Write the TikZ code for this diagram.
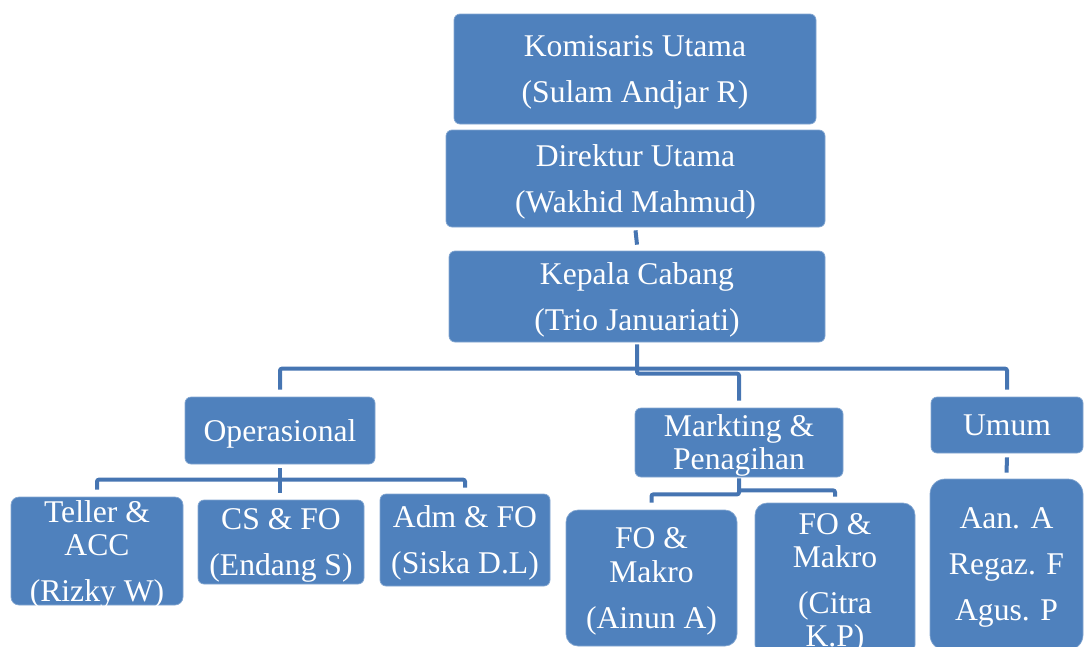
\documentclass[tikz,border=0pt]{standalone}
\usepackage{fontspec}
\setmainfont{Liberation Serif}
\usepackage{tikz}
\usetikzlibrary{calc}

\definecolor{birukotak}{HTML}{4F81BD}
\definecolor{birugaris}{HTML}{4675B2}
\def\px{0.02cm}

\begin{document}
\begin{tikzpicture}[x=0.02cm, y=-0.02cm,
	kotak/.style={fill=birukotak, draw=birukotak!70!white, line width=0.4pt, rounded corners=6*\px,
		text=white, align=center, inner sep=0pt, text depth=0pt,
		font=\fontsize{18}{18.8}\selectfont},
	garis/.style={draw=birugaris, line width=4*\px, rounded corners=2*\px}]
	\useasboundingbox (0,0) rectangle (1088,646);
	%% pimpinan
	\node[kotak, minimum width=362*\px, minimum height=110*\px] (kom) at (635,69) {Komisaris Utama\\[7.4pt](Sulam Andjar R)};
	\node[kotak, minimum width=379*\px, minimum height=97*\px] (dir) at (635.5,178.5) {Direktur Utama\\[7.4pt](Wakhid Mahmud)};
	\node[kotak, minimum width=376*\px, minimum height=91*\px] (kep) at (637,296.5) {Kepala Cabang\\[7.4pt](Trio Januariati)};
	%% bagian
	\node[kotak, minimum width=190*\px, minimum height=67*\px] (ops) at (280,430.5) {Operasional};
	\node[kotak, minimum width=208*\px, minimum height=69*\px] (mark) at (739,442.5) {Markting \&\\Penagihan};
	\node[kotak, minimum width=152*\px, minimum height=56*\px] (umum) at (1007,425) {Umum};
	%% staf operasional
	\node[kotak, rounded corners=8*\px, minimum width=172*\px, minimum height=108*\px] (teller) at (97,551) {Teller \&\\ACC\\[7.4pt](Rizky W)};
	\node[kotak, minimum width=166*\px, minimum height=84*\px] (cs) at (281,542) {CS \& FO\\[7.4pt](Endang S)};
	\node[kotak, minimum width=170*\px, minimum height=92*\px] (adm) at (465,540) {Adm \& FO\\[7.4pt](Siska D.L)};
	%% staf marketing
	\node[kotak, rounded corners=12*\px, minimum width=171*\px, minimum height=136*\px] (ainun) at (651.5,578) {FO \&\\Makro\\[7.4pt](Ainun A)};
	\node[kotak, rounded corners=12*\px, minimum width=160*\px, minimum height=154*\px] (citra) at (835,580) {FO \&\\Makro\\[7.4pt](Citra\\K.P)};
	%% staf umum
	\node[kotak, rounded corners=15*\px, minimum width=153*\px, minimum height=171*\px] (aan) at (1006.5,564.5) {Aan. A\\[7.4pt]Regaz. F\\[7.4pt]Agus. P};

	%% garis
	\draw[garis] ($(dir.south)+(0,3)$) -- ($(kep.north)+(0,-6)$);
	\draw[garis] ($(ops.north)+(0,-7)$) |- ($(umum.north)+(0,-28)$) -- ($(umum.north)+(0,-7)$);
	\draw[garis] ($(kep.south)+(0,2)$) |- ($(mark.north)+(0,-34)$) -- ($(mark.north)+(0,-7)$);
	\draw[garis] ($(teller.north)+(0,-7)$) |- ($(adm.north)+(0,-14)$) -- ($(adm.north)+(0,-6)$);
	\draw[garis] ($(ops.south)+(0,4)$) -- ($(cs.north)+(-1,-7)$);
	\draw[garis] ($(mark.south)+(0,1)$) -- ++(0,16) -| ($(ainun.north)+(0,-7)$);
	\draw[garis] ($(mark.south)+(0,13)$) -| ($(citra.north)+(0,-6)$);
	\draw[garis] ($(umum.south)+(0,4)$) -- ($(aan.north)+(0,-6)$);
\end{tikzpicture}
\end{document}
